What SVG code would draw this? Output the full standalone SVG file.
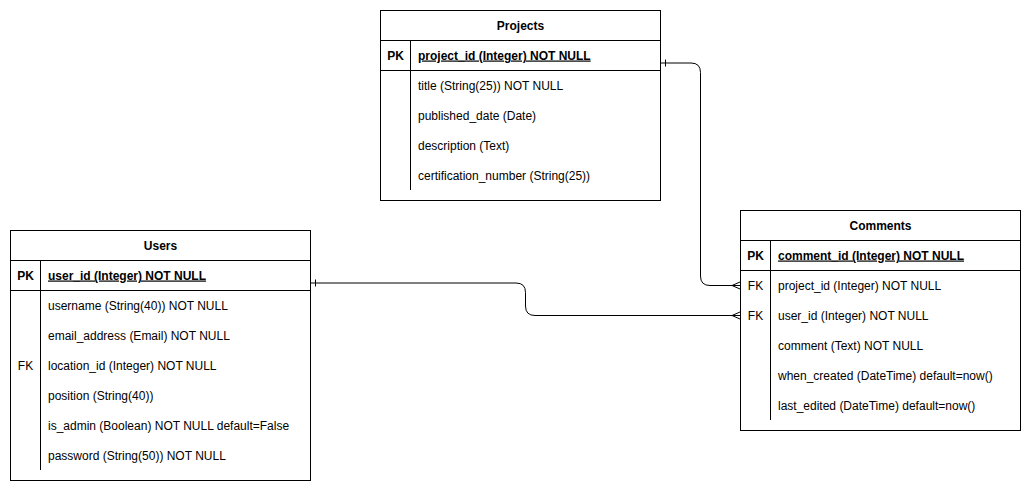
<svg xmlns="http://www.w3.org/2000/svg" width="1032" height="491" viewBox="0 0 1032 491">
<style>
  .box{fill:#fff;stroke:#000;stroke-width:1}
  .ln{stroke:#000;stroke-width:1;fill:none}
  .t{font-family:"Liberation Sans",Arial,Helvetica,sans-serif;font-size:12px;fill:#000}
  .b{font-weight:bold}
  .c{text-anchor:middle}
  .u{text-decoration:underline}
  .con{stroke:#000;stroke-width:1;fill:none}
</style>
<rect width="1032" height="491" fill="#fff"/>
<g id="projects">
  <rect class="box" x="380.5" y="10.5" width="280" height="190"/>
  <line class="ln" x1="380.5" y1="40.5" x2="660.5" y2="40.5"/>
  <line class="ln" x1="380.5" y1="70.5" x2="660.5" y2="70.5"/>
  <line class="ln" x1="410.5" y1="40.5" x2="410.5" y2="190"/>
  <text class="t b c" x="520.5" y="29.5">Projects</text>
  <text class="t b c" x="395.5" y="59.5">PK</text>
  <text class="t b u" x="418" y="59.5">project_id (Integer) NOT NULL</text>
  <text class="t" x="418" y="89.5">title (String(25)) NOT NULL</text>
  <text class="t" x="418" y="119.5">published_date (Date)</text>
  <text class="t" x="418" y="149.5">description (Text)</text>
  <text class="t" x="418" y="179.5">certification_number (String(25))</text>
</g>
<g id="users">
  <rect class="box" x="10.5" y="230.5" width="300" height="250"/>
  <line class="ln" x1="10.5" y1="260.5" x2="310.5" y2="260.5"/>
  <line class="ln" x1="10.5" y1="290.5" x2="310.5" y2="290.5"/>
  <line class="ln" x1="40.5" y1="260.5" x2="40.5" y2="470"/>
  <text class="t b c" x="160.5" y="249.5">Users</text>
  <text class="t b c" x="25.5" y="279.5">PK</text>
  <text class="t b u" x="48" y="279.5">user_id (Integer) NOT NULL</text>
  <text class="t" x="48" y="309.5">username (String(40)) NOT NULL</text>
  <text class="t" x="48" y="339.5">email_address (Email) NOT NULL</text>
  <text class="t c" x="25.5" y="369.5">FK</text>
  <text class="t" x="48" y="369.5">location_id (Integer) NOT NULL</text>
  <text class="t" x="48" y="399.5">position (String(40))</text>
  <text class="t" x="48" y="429.5">is_admin (Boolean) NOT NULL default=False</text>
  <text class="t" x="48" y="459.5">password (String(50)) NOT NULL</text>
</g>
<g id="comments">
  <rect class="box" x="740.5" y="210.5" width="280" height="220"/>
  <line class="ln" x1="740.5" y1="240.5" x2="1020.5" y2="240.5"/>
  <line class="ln" x1="740.5" y1="270.5" x2="1020.5" y2="270.5"/>
  <line class="ln" x1="770.5" y1="240.5" x2="770.5" y2="420"/>
  <text class="t b c" x="880.5" y="229.5">Comments</text>
  <text class="t b c" x="755.5" y="259.5">PK</text>
  <text class="t b u" x="778" y="259.5">comment_id (Integer) NOT NULL</text>
  <text class="t c" x="755.5" y="289.5">FK</text>
  <text class="t" x="778" y="289.5">project_id (Integer) NOT NULL</text>
  <text class="t c" x="755.5" y="319.5">FK</text>
  <text class="t" x="778" y="319.5">user_id (Integer) NOT NULL</text>
  <text class="t" x="778" y="349.5">comment (Text) NOT NULL</text>
  <text class="t" x="778" y="379.5">when_created (DateTime) default=now()</text>
  <text class="t" x="778" y="409.5">last_edited (DateTime) default=now()</text>
</g>
<g id="connectors">
  <path class="con" d="M661 63 L691 63 Q700.5 63 700.5 72.5 L700.5 276 Q700.5 285.5 710 285.5 L740 285.5"/>
  <line class="con" x1="665.5" y1="59.5" x2="665.5" y2="66.5"/>
  <path class="con" d="M740 282 L732 285.5 L740 289 M732 285.5 L740 285.5"/>
  <path class="con" d="M311 283 L516 283 Q525.5 283 525.5 292.5 L525.5 306 Q525.5 315.5 535 315.5 L740 315.5"/>
  <line class="con" x1="315.5" y1="279.5" x2="315.5" y2="286.5"/>
  <path class="con" d="M740 312 L732 315.5 L740 319 M732 315.5 L740 315.5"/>
</g>
</svg>
